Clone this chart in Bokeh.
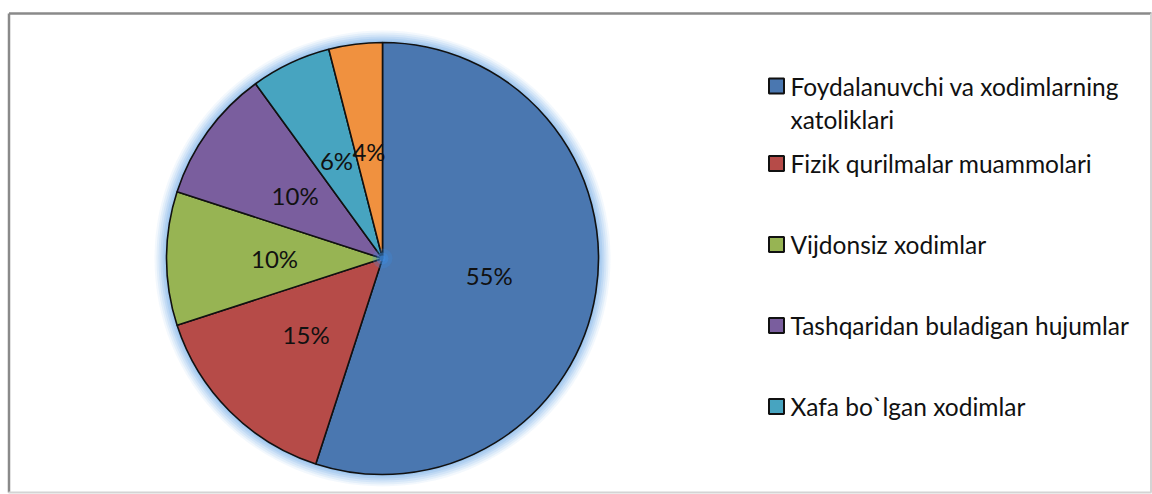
import numpy as np
from bokeh.plotting import figure
from bokeh.models import Range1d, ColumnDataSource
from bokeh.embed import file_html
from bokeh.resources import INLINE
from bokeh.core.properties import value

# ---- data ----
categories = [
    "Foydalanuvchi va xodimlarning\nxatoliklari",
    "Fizik qurilmalar muammolari",
    "Vijdonsiz xodimlar",
    "Tashqaridan buladigan hujumlar",
    "Xafa bo`lgan xodimlar",
    "",  # sixth category: legend entry cut off in the original
]
shares = [55, 15, 10, 10, 6, 4]
colors = ["#4a77b0", "#b64b48", "#97b453", "#7a5e9e", "#47a4c0", "#f0913f"]

# ---- layout ----
W, H = 1152, 494
p = figure(width=W, height=H, output_backend="svg", toolbar_location=None,
           x_range=Range1d(0, W), y_range=Range1d(0, H), min_border=0)
p.axis.visible = False
p.grid.visible = False
p.outline_line_color = None
p.background_fill_color = "white"
p.border_fill_color = "white"

# frame
p.segment(x0=[8.5, 8.5], y0=[2, 481], x1=[8.5, 1151], y1=[481, 481], line_color="#8a8a8a", line_width=2.5)
p.segment(x0=[1150.5, 8], y0=[481, 2], x1=[1150.5, 1151], y1=[2, 2], line_color="#d4d4d4", line_width=2)

cx, cy, R = 382, 236, 216

# glow
for k, a in [(12, 0.10), (10, 0.14), (8, 0.18), (6, 0.24), (4, 0.3), (2, 0.4)]:
    p.circle(x=cx, y=cy, radius=R + k, fill_color="#8ab8ec", fill_alpha=a, line_color=None)

vals = np.array(shares, dtype=float)
frac = vals / vals.sum()
cum = np.concatenate([[0], np.cumsum(frac)])
start = np.pi / 2 - 2 * np.pi * cum[:-1]
end = np.pi / 2 - 2 * np.pi * cum[1:]
mid = (start + end) / 2

src = ColumnDataSource(dict(start=start, end=end, color=colors))
p.wedge(x=cx, y=cy, radius=R, start_angle="start", end_angle="end", direction="clock",
        fill_color="color", line_color="#111111", line_width=1.6, source=src)

# inner center glow
for r, a in [(10, 0.25), (6, 0.4), (3, 0.6)]:
    p.circle(x=cx, y=cy, radius=r, fill_color="#3d8be0", fill_alpha=a, line_color=None)

lr = 0.5 * R
lsrc = ColumnDataSource(dict(x=cx + lr * np.cos(mid), y=cy + lr * np.sin(mid),
                             t=[f"{s}%" for s in shares]))
p.text(x="x", y="y", text="t", source=lsrc, text_align="center", text_baseline="middle",
       text_font=value("Lato"), text_font_size="24px", text_color="#111111")

# legend (manual)
lx_box, lx_text = 776, 790
item_y = [408.5]
for i in range(1, 5):
    item_y.append(331 - 81 * (i - 1))
bx, by, bc, tx, ty, tt = [], [], [], [], [], []
for i, cat in enumerate(categories):
    if not cat:
        continue
    bx.append(lx_box); by.append(item_y[i]); bc.append(colors[i])
    for j, line in enumerate(cat.split("\n")):
        tx.append(lx_text); ty.append(item_y[i] - 33 * j); tt.append(line)
p.rect(x=bx, y=by, width=15, height=15, fill_color=bc, line_color="#111111", line_width=2)
p.text(x=tx, y=ty, text=tt, text_align="left", text_baseline="middle",
       text_font=value("Lato"), text_font_size="24.5px", text_color="#111111")

open("out.html", "w").write(file_html(p, INLINE))
